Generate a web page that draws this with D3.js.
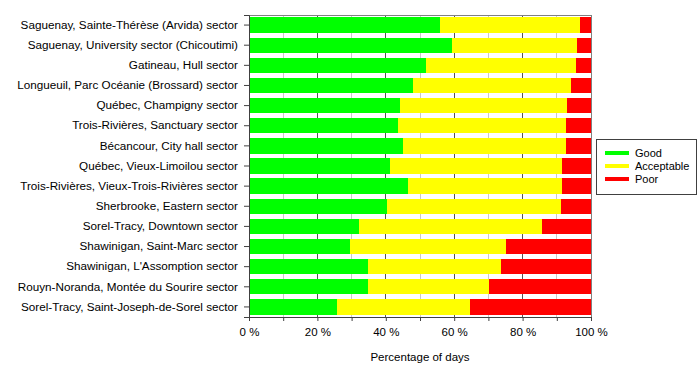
<!DOCTYPE html>
<html><head><meta charset="utf-8">
<script src="https://cdn.jsdelivr.net/npm/d3@7"></script>
<style>body{margin:0;background:#fff}text{font-family:"Liberation Sans",Arial,sans-serif}</style>
</head><body><svg id="c" width="700" height="368"></svg>
<script>
const categories = [
 "Saguenay, Sainte-Thérèse (Arvida) sector",
 "Saguenay, University sector (Chicoutimi)",
 "Gatineau, Hull sector",
 "Longueuil, Parc Océanie (Brossard) sector",
 "Québec, Champigny sector",
 "Trois-Rivières, Sanctuary sector",
 "Bécancour, City hall sector",
 "Québec, Vieux-Limoilou sector",
 "Trois-Rivières, Vieux-Trois-Rivières sector",
 "Sherbrooke, Eastern sector",
 "Sorel-Tracy, Downtown sector",
 "Shawinigan, Saint-Marc sector",
 "Shawinigan, L'Assomption sector",
 "Rouyn-Noranda, Montée du Sourire sector",
 "Sorel-Tracy, Saint-Joseph-de-Sorel sector"
];
const good       = [55.8, 59.5, 51.8, 48.0, 44.2, 43.5, 45.0, 41.2, 46.5, 40.4, 32.2, 29.6, 34.7, 34.7, 25.8];
const acceptable = [41.1, 36.4, 43.8, 46.1, 48.9, 49.1, 47.6, 50.4, 45.1, 50.9, 53.4, 45.4, 39.0, 35.5, 38.9];
const poor       = [3.1, 4.1, 4.4, 5.9, 6.9, 7.4, 7.4, 8.4, 8.4, 8.7, 14.4, 25.0, 26.3, 29.8, 35.3];
const seriesNames = ["Good", "Acceptable", "Poor"];
const seriesColors = ["#00ff00", "#ffff00", "#ff0000"];
const xTicks = [0, 20, 40, 60, 80, 100];

const svg = d3.select("#c");
const L = 249, R = 591, T = 15, B = 317;
const x = d3.scaleLinear().domain([0, 100]).range([L, R]);
const y = d3.scaleBand().domain(categories).range([T, B]).paddingInner(0.24).paddingOuter(0.12);

// gridlines
const grid = d3.range(10, 100, 10);
svg.append("g").selectAll("line").data(grid).join("line")
  .attr("x1", d => x(d)).attr("x2", d => x(d)).attr("y1", T).attr("y2", B)
  .attr("stroke", d => d % 20 === 0 ? "#555" : "#c8c8c8").attr("stroke-width", 1)
  .attr("shape-rendering", "crispEdges");

// stacked bars
const rows = categories.map((c, i) => ({cat: c, Good: good[i], Acceptable: acceptable[i], Poor: poor[i]}));
const stack = d3.stack().keys(seriesNames)(rows);
svg.append("g").selectAll("g").data(stack).join("g")
  .attr("fill", (d, i) => seriesColors[i])
  .selectAll("rect").data(d => d).join("rect")
  .attr("x", d => x(d[0])).attr("width", d => x(d[1]) - x(d[0]))
  .attr("y", d => y(d.data.cat)).attr("height", y.bandwidth())
  .attr("shape-rendering", "crispEdges");

// frame
svg.append("rect").attr("x", L).attr("y", T).attr("width", R - L).attr("height", B - T)
  .attr("fill", "none").attr("stroke", "#808080").attr("shape-rendering", "crispEdges");

// y axis
const ya = svg.append("g").attr("transform", `translate(${L},0)`)
  .call(d3.axisLeft(y).tickSize(5).tickPadding(6));
ya.select(".domain").attr("stroke", "#404040");
ya.selectAll(".tick line").attr("stroke", "#404040");
ya.selectAll("text").attr("font-size", "11.7px").attr("fill", "#000");

// x axis
const xa = svg.append("g").attr("transform", `translate(0,${B})`)
  .call(d3.axisBottom(x).tickValues(d3.range(0, 101, 10)).tickSize(4).tickPadding(7)
    .tickFormat(d => xTicks.includes(d) ? d + " %" : ""));
xa.select(".domain").attr("stroke", "#404040");
xa.selectAll(".tick line").attr("stroke", "#404040");
xa.selectAll("text").attr("font-size", "11.5px").attr("fill", "#000");

svg.append("text").attr("x", (L + R) / 2).attr("y", 361).attr("text-anchor", "middle")
  .attr("font-size", "11.5px").text("Percentage of days");

// legend
const lg = svg.append("g");
lg.append("rect").attr("x", 596.5).attr("y", 139.5).attr("width", 100).attr("height", 55)
  .attr("fill", "#fff").attr("stroke", "#404040");
seriesNames.forEach((s, i) => {
  const yy = 153 + i * 13;
  lg.append("line").attr("x1", 605).attr("x2", 629).attr("y1", yy).attr("y2", yy)
    .attr("stroke", seriesColors[i]).attr("stroke-width", 4);
  lg.append("text").attr("x", 635).attr("y", yy + 4).attr("font-size", "11px").text(s);
});
</script></body></html>
